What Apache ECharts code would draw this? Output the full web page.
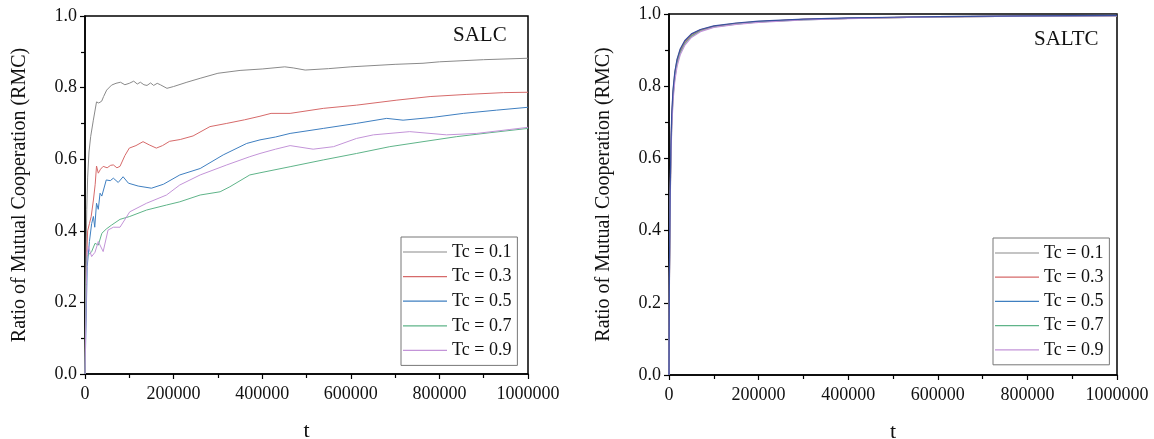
<!DOCTYPE html>
<html>
<head>
<meta charset="utf-8">
<script src="https://cdn.jsdelivr.net/npm/echarts@6/dist/echarts.min.js"></script>
<style>
html,body{margin:0;padding:0;background:#fff;}
#chart{width:1154px;height:439px;}
</style>
</head>
<body>
<div id="chart"></div>
<script>
// ---------- DATA ----------
const seriesNames = ['Tc = 0.1', 'Tc = 0.3', 'Tc = 0.5', 'Tc = 0.7', 'Tc = 0.9'];
const yTicks = [0, 0.2, 0.4, 0.6, 0.8, 1.0];
const xTicks = [0, 200000, 400000, 600000, 800000, 1000000];

// SALC (left panel)
const salcT01 = [0, 2000, 4000, 6000, 9000, 12800, 18800, 26000, 31000, 37600, 42000, 48900, 60000, 70000, 80000, 90000, 100000, 110000, 118000, 125000, 133000, 140000, 148000, 155000, 163000, 170000, 185000, 200000, 230000, 260000, 300000, 350000, 400000, 451000, 470000, 497000, 550000, 600000, 700000, 763000, 800000, 900000, 1000000];
const salcV01 = [0, 0.30, 0.46, 0.55, 0.62, 0.663, 0.709, 0.760, 0.757, 0.762, 0.775, 0.793, 0.807, 0.812, 0.815, 0.808, 0.812, 0.818, 0.810, 0.815, 0.808, 0.806, 0.813, 0.806, 0.812, 0.808, 0.798, 0.803, 0.815, 0.826, 0.840, 0.848, 0.852, 0.858, 0.855, 0.849, 0.853, 0.858, 0.865, 0.868, 0.872, 0.878, 0.882];

const salcT03 = [0, 3000, 6000, 10000, 14000, 19000, 23000, 26000, 30000, 35000, 41000, 50000, 58000, 64000, 72000, 79000, 90000, 100000, 115000, 131000, 145000, 161000, 175000, 191000, 215000, 244000, 282000, 320000, 360000, 395000, 420000, 463000, 538000, 613000, 704000, 779000, 862000, 945000, 1000000];
const salcV03 = [0, 0.30, 0.40, 0.42, 0.44, 0.486, 0.53, 0.581, 0.561, 0.572, 0.580, 0.576, 0.583, 0.584, 0.576, 0.580, 0.610, 0.631, 0.638, 0.649, 0.640, 0.631, 0.638, 0.650, 0.655, 0.665, 0.691, 0.700, 0.710, 0.720, 0.728, 0.728, 0.742, 0.751, 0.765, 0.775, 0.781, 0.786, 0.787];

const salcT05 = [0, 5000, 10000, 15000, 19000, 22000, 26000, 30000, 34000, 38000, 48000, 57000, 64000, 75000, 86000, 98000, 120000, 150000, 177000, 214000, 260000, 312000, 365000, 395000, 430000, 463000, 538000, 613000, 681000, 718000, 786000, 854000, 929000, 1000000];
const salcV05 = [0, 0.30, 0.37, 0.42, 0.44, 0.41, 0.477, 0.46, 0.505, 0.497, 0.542, 0.540, 0.547, 0.535, 0.551, 0.533, 0.525, 0.519, 0.530, 0.556, 0.574, 0.612, 0.644, 0.654, 0.662, 0.672, 0.686, 0.700, 0.714, 0.709, 0.717, 0.728, 0.737, 0.745];

const salcT07 = [0, 2000, 4000, 10000, 15000, 22600, 30000, 38000, 48000, 60000, 79000, 101000, 139000, 184000, 214000, 260000, 305000, 327000, 372000, 395000, 463000, 538000, 613000, 688000, 763000, 839000, 914000, 1000000];
const salcV07 = [0, 0.25, 0.328, 0.335, 0.342, 0.365, 0.360, 0.393, 0.405, 0.416, 0.432, 0.440, 0.458, 0.472, 0.481, 0.500, 0.509, 0.523, 0.556, 0.562, 0.579, 0.598, 0.616, 0.635, 0.649, 0.663, 0.674, 0.686];

const salcT09 = [0, 3000, 5000, 7500, 15000, 22600, 30000, 41000, 52000, 64000, 79000, 101000, 139000, 184000, 214000, 260000, 320000, 372000, 395000, 430000, 463000, 515000, 561000, 613000, 651000, 733000, 816000, 884000, 959000, 1000000];
const salcV09 = [0, 0.25, 0.34, 0.356, 0.328, 0.340, 0.370, 0.342, 0.402, 0.410, 0.410, 0.453, 0.477, 0.500, 0.528, 0.556, 0.584, 0.607, 0.616, 0.628, 0.638, 0.628, 0.635, 0.658, 0.668, 0.677, 0.668, 0.672, 0.683, 0.689];

// SALTC (right panel)
const saltcT = [0, 1000, 2500, 4000, 6000, 9000, 13000, 18000, 25000, 35000, 50000, 70000, 100000, 150000, 200000, 300000, 400000, 500000, 600000, 800000, 1000000];
const saltcV01 = [0, 0.29, 0.49, 0.61, 0.71, 0.785, 0.836, 0.872, 0.900, 0.924, 0.943, 0.956, 0.966, 0.974, 0.979, 0.985, 0.988, 0.991, 0.993, 0.995, 0.996];
const saltcV03 = [0, 0.28, 0.48, 0.60, 0.70, 0.775, 0.828, 0.865, 0.895, 0.920, 0.940, 0.954, 0.965, 0.973, 0.978, 0.985, 0.988, 0.990, 0.992, 0.994, 0.995];
const saltcV05 = [0, 0.30, 0.50, 0.62, 0.72, 0.790, 0.840, 0.875, 0.903, 0.926, 0.945, 0.957, 0.967, 0.975, 0.980, 0.986, 0.989, 0.991, 0.993, 0.995, 0.996];
const saltcV07 = [0, 0.27, 0.47, 0.59, 0.69, 0.770, 0.823, 0.862, 0.892, 0.917, 0.938, 0.953, 0.964, 0.972, 0.978, 0.984, 0.988, 0.990, 0.992, 0.994, 0.995];
const saltcV09 = [0, 0.26, 0.46, 0.58, 0.68, 0.760, 0.815, 0.855, 0.887, 0.913, 0.935, 0.951, 0.963, 0.971, 0.977, 0.984, 0.987, 0.990, 0.992, 0.994, 0.995];

const colors = ['#8a8a8a', '#d66a6a', '#3f7fc0', '#5fb489', '#c394d8'];
const rightColors = ['#8a8a8a', '#d05a6a', '#3a4fa0', '#5fb489', '#c394d8'];

// ---------- BUILD ----------
const zip = (t, v) => t.map((x, i) => [x, v[i]]);
const leftData = [zip(salcT01, salcV01), zip(salcT03, salcV03), zip(salcT05, salcV05), zip(salcT07, salcV07), zip(salcT09, salcV09)];
const rightData = [zip(saltcT, saltcV01), zip(saltcT, saltcV03), zip(saltcT, saltcV05), zip(saltcT, saltcV07), zip(saltcT, saltcV09)];

const FONT = 'Liberation Serif';

function xAxis(gi) {
  return {
    type: 'value', gridIndex: gi, min: xTicks[0], max: xTicks[xTicks.length - 1], interval: 200000,
    name: 't', nameLocation: 'middle', nameGap: 46,
    nameTextStyle: { fontFamily: FONT, fontSize: 22, color: '#111' },
    axisLine: { show: true, onZero: false, lineStyle: { color: '#000', width: 1.5 } },
    axisTick: { show: true, inside: false, length: 5, lineStyle: { color: '#000', width: 1.2 } },
    minorTick: { show: true, splitNumber: 2, length: 4, lineStyle: { color: '#000', width: 1.2 } },
    splitLine: { show: false },
    axisLabel: { fontFamily: FONT, fontSize: 18, color: '#111', margin: 11, formatter: v => String(v) }
  };
}
function yAxis(gi) {
  return {
    type: 'value', gridIndex: gi, min: yTicks[0], max: yTicks[yTicks.length - 1], interval: 0.2,
    name: 'Ratio of Mutual Cooperation (RMC)', nameLocation: 'middle', nameGap: 55,
    nameTextStyle: { fontFamily: FONT, fontSize: 20, color: '#111' },
    axisLine: { show: true, onZero: false, lineStyle: { color: '#000', width: 1.5 } },
    axisTick: { show: true, inside: false, length: 5, lineStyle: { color: '#000', width: 1.2 } },
    minorTick: { show: true, splitNumber: 2, length: 4, lineStyle: { color: '#000', width: 1.2 } },
    splitLine: { show: false },
    axisLabel: { fontFamily: FONT, fontSize: 18, color: '#111', margin: 8, formatter: v => v.toFixed(1) }
  };
}

const series = [];
leftData.forEach((d, i) => series.push({
  name: seriesNames[i], type: 'line', xAxisIndex: 0, yAxisIndex: 0, data: d,
  symbol: 'none', showSymbol: false, lineStyle: { width: 1, color: colors[i] }, itemStyle: { color: colors[i] }, animation: false
}));
[0, 1, 3, 4, 2].forEach(i => series.push({
  name: seriesNames[i], type: 'line', xAxisIndex: 1, yAxisIndex: 1, data: rightData[i],
  symbol: 'none', showSymbol: false, lineStyle: { width: 1.2, color: rightColors[i] }, itemStyle: { color: rightColors[i] }, animation: false
}));

function legend(left, top, gap) {
  return {
    data: seriesNames.map(n => ({ name: n, icon: 'rect' })), orient: 'vertical', left: left, top: top,
    itemWidth: 44, itemHeight: 1.2, itemGap: gap,
    padding: [6, 6, 6, 2], borderColor: '#777', borderWidth: 1,
    textStyle: { fontFamily: FONT, fontSize: 18, color: '#111', lineHeight: 18 },
    selectedMode: false
  };
}

const option = {
  backgroundColor: '#fff',
  animation: false,
  grid: [
    { left: 85, top: 16, width: 443, height: 358, show: true, borderColor: '#000', borderWidth: 1.5, backgroundColor: 'transparent', containLabel: false, outerBoundsMode: 'none' },
    { left: 669, top: 14, width: 448, height: 361, show: true, borderColor: '#000', borderWidth: 1.5, backgroundColor: 'transparent', containLabel: false, outerBoundsMode: 'none' }
  ],
  xAxis: [xAxis(0), xAxis(1)],
  yAxis: [yAxis(0), yAxis(1)],
  legend: [legend(401, 237, 6.6), legend(993, 238, 6.2)],
  graphic: [
    { type: 'text', left: 453, top: 25, style: { text: 'SALC', font: '21px "Liberation Serif"', fill: '#111' } },
    { type: 'text', left: 1034, top: 29, style: { text: 'SALTC', font: '21px "Liberation Serif"', fill: '#111' } }
  ],
  series: series
};

const chart = echarts.init(document.getElementById('chart'), null, { renderer: 'canvas' });
chart.setOption(option);
</script>
</body>
</html>
